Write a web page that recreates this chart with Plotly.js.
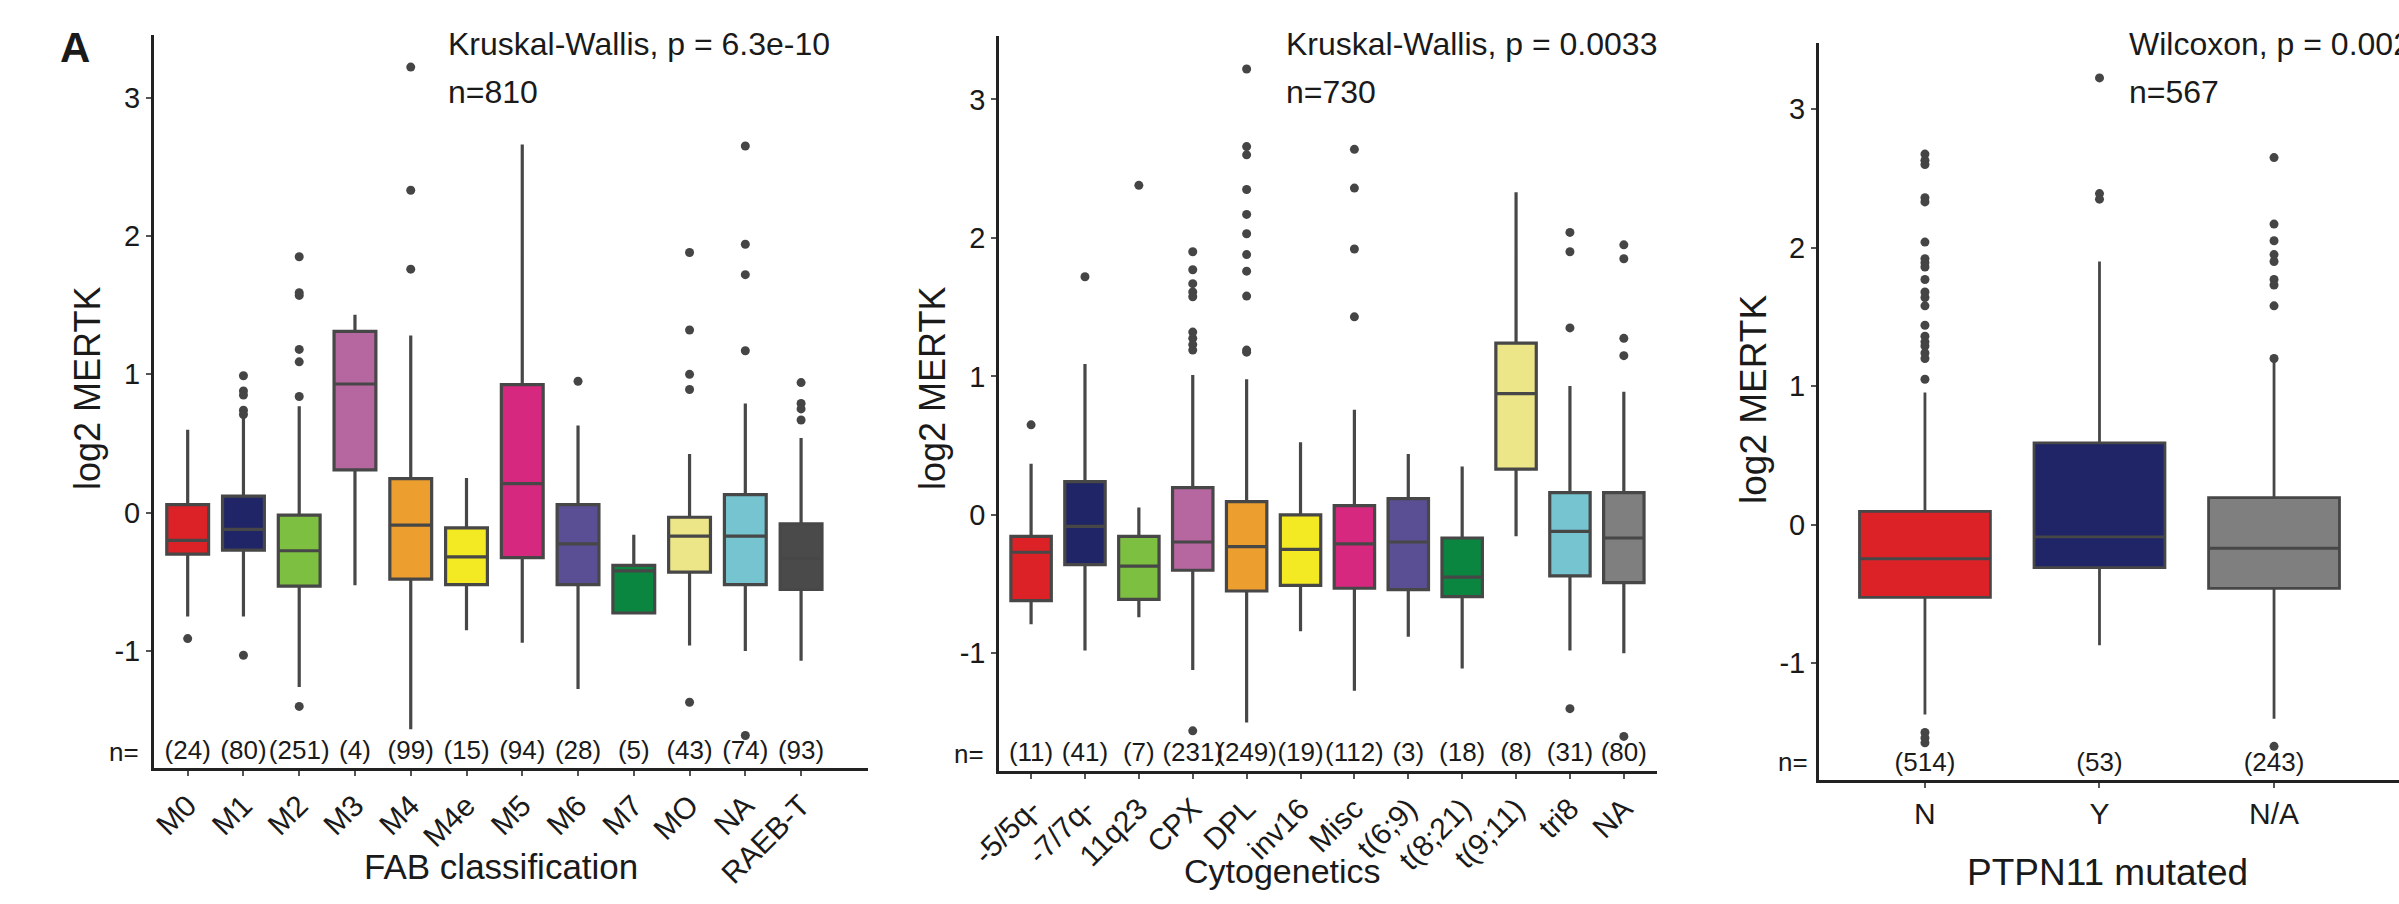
<!DOCTYPE html>
<html>
<head>
<meta charset="utf-8">
<script src="https://cdn.plot.ly/plotly-3.0.1.min.js"></script>
<style>
  html, body { margin: 0; padding: 0; background: #ffffff; }
  #chart { width: 2399px; height: 904px; }
</style>
</head>
<body>
<div id="chart"></div>
<script>
// ---------- Panel 1: FAB classification ----------
const fabCats = ['M0','M1','M2','M3','M4','M4e','M5','M6','M7','MO','NA','RAEB-T'];
const fabCounts = [24, 80, 251, 4, 99, 15, 94, 28, 5, 43, 74, 93];
const fabQ1  = [-0.30, -0.27, -0.53, 0.31, -0.48, -0.52, -0.325, -0.52, -0.725, -0.43, -0.52, -0.555];
const fabMed = [-0.20, -0.12, -0.275, 0.93, -0.09, -0.32, 0.21, -0.225, -0.42, -0.17, -0.17, -0.33];
const fabQ3  = [0.058, 0.12, -0.017, 1.31, 0.246, -0.11, 0.925, 0.058, -0.38, -0.033, 0.13, -0.08];
const fabLo  = [-0.75, -0.75, -1.26, -0.525, -1.565, -0.85, -0.94, -1.275, -0.725, -0.96, -1.0, -1.07];
const fabHi  = [0.60, 0.70, 0.77, 1.43, 1.28, 0.25, 2.66, 0.63, -0.16, 0.425, 0.79, 0.54];
const fabOut = [
  [-0.91],
  [0.99, 0.88, 0.85, 0.74, 0.71, -1.03],
  [1.85, 1.59, 1.57, 1.18, 1.09, 0.84, -1.40],
  [],
  [3.22, 2.33, 1.76],
  [],
  [],
  [0.95],
  [],
  [1.88, 1.32, 1.00, 0.89, -1.37],
  [2.65, 1.94, 1.72, 1.17, -1.61],
  [0.94, 0.79, 0.75, 0.67]
];
const fabColors = ['#dd2227','#1f2566','#7dbf41','#b667a0','#ec9e2e','#f4ea24','#d6287e','#5a4f95','#0b8640','#ece689','#76c4cf','#4a4a4a'];

// ---------- Panel 2: Cytogenetics ----------
const cytoCats = ['-5/5q-','-7/7q-','11q23','CPX','DPL','inv16','Misc','t(6;9)','t(8;21)','t(9;11)','tri8','NA'];
const cytoCounts = [11, 41, 7, 231, 249, 19, 112, 3, 18, 8, 31, 80];
const cytoQ1  = [-0.62, -0.36, -0.61, -0.40, -0.55, -0.51, -0.53, -0.54, -0.59, 0.33, -0.44, -0.49];
const cytoMed = [-0.27, -0.083, -0.37, -0.196, -0.23, -0.25, -0.21, -0.196, -0.45, 0.875, -0.12, -0.167];
const cytoQ3  = [-0.155, 0.24, -0.155, 0.196, 0.096, 0.0, 0.067, 0.117, -0.167, 1.24, 0.16, 0.16];
const cytoLo  = [-0.79, -0.98, -0.74, -1.12, -1.50, -0.84, -1.27, -0.88, -1.11, -0.155, -0.98, -1.0];
const cytoHi  = [0.37, 1.09, 0.054, 1.01, 0.98, 0.525, 0.76, 0.44, 0.35, 2.33, 0.93, 0.89];
const cytoOut = [
  [0.65],
  [1.72],
  [2.38],
  [1.90, 1.77, 1.67, 1.61, 1.575, 1.32, 1.275, 1.23, 1.19, -1.56],
  [3.22, 2.66, 2.60, 2.35, 2.17, 2.03, 1.88, 1.76, 1.58, 1.19, 1.175],
  [],
  [2.64, 2.36, 1.92, 1.43],
  [],
  [],
  [],
  [2.04, 1.90, 1.35, -1.40],
  [1.95, 1.85, 1.275, 1.15, -1.60]
];
const cytoColors = ['#dd2227','#1f2566','#7dbf41','#b667a0','#ec9e2e','#f4ea24','#d6287e','#5a4f95','#0b8640','#ece689','#76c4cf','#7f7f7f'];

// ---------- Panel 3: PTPN11 mutated ----------
const ptCats = ['N','Y','N/A'];
const ptCounts = [514, 53, 243];
const ptQ1  = [-0.525, -0.31, -0.46];
const ptMed = [-0.246, -0.0875, -0.17];
const ptQ3  = [0.096, 0.59, 0.196];
const ptLo  = [-1.37, -0.87, -1.40];
const ptHi  = [0.954, 1.90, 1.18];
const ptOut = [
  [2.675, 2.63, 2.60, 2.36, 2.33, 2.04, 1.92, 1.89, 1.86, 1.77, 1.68, 1.64, 1.58, 1.44, 1.36, 1.32, 1.29, 1.24, 1.20, 1.05, -1.50, -1.54, -1.575],
  [3.225, 2.39, 2.35],
  [2.65, 2.17, 2.05, 1.95, 1.90, 1.77, 1.73, 1.58, 1.20, -1.60]
];
const ptColors = ['#dd2227','#1f2566','#7f7f7f'];

const yTicks = [-1, 0, 1, 2, 3];

// ---------- build ----------
const W = 2399, H = 904;
const FONT = 'Liberation Sans, Arial, Helvetica, sans-serif';
const TXT = '#1a1a1a';
const N_LABEL_Y = -1.73;

function panel(cats, q1, med, q3, lo, hi, outs, counts, colors, xa, ya, lw) {
  const tr = [];
  cats.forEach((c, i) => {
    tr.push({
      type: 'box', x: [c], q1: [q1[i]], median: [med[i]], q3: [q3[i]],
      lowerfence: [lo[i]], upperfence: [hi[i]],
      xaxis: xa, yaxis: ya, width: 0.75, whiskerwidth: 0, boxpoints: false,
      fillcolor: colors[i], line: { color: '#474747', width: lw },
      hoverinfo: 'skip', showlegend: false
    });
  });
  const ox = [], oy = [];
  outs.forEach((arr, i) => arr.forEach(v => { ox.push(cats[i]); oy.push(v); }));
  tr.push({
    type: 'scatter', mode: 'markers', x: ox, y: oy, xaxis: xa, yaxis: ya,
    marker: { size: 9, color: '#454545' }, hoverinfo: 'skip', showlegend: false
  });
  tr.push({
    type: 'scatter', mode: 'text', x: cats, y: cats.map(() => N_LABEL_Y),
    text: counts.map(n => '(' + n + ')'), textposition: 'middle center',
    textfont: { size: 26, color: TXT, family: FONT }, cliponaxis: false,
    xaxis: xa, yaxis: ya, hoverinfo: 'skip', showlegend: false
  });
  return tr;
}

const data = [].concat(
  panel(fabCats, fabQ1, fabMed, fabQ3, fabLo, fabHi, fabOut, fabCounts, fabColors, 'x', 'y', 3.2),
  panel(cytoCats, cytoQ1, cytoMed, cytoQ3, cytoLo, cytoHi, cytoOut, cytoCounts, cytoColors, 'x2', 'y2', 3.2),
  panel(ptCats, ptQ1, ptMed, ptQ3, ptLo, ptHi, ptOut, ptCounts, ptColors, 'x3', 'y3', 2.8)
);

function xAxis(cats, dom, rng, anchor, angle, fs) {
  return {
    domain: dom, range: rng, type: 'category', categoryorder: 'array', categoryarray: cats,
    anchor: anchor, showline: true, linecolor: '#222222', linewidth: 3,
    ticks: 'outside', ticklen: 5, tickwidth: 2, tickcolor: '#555555',
    tickangle: angle, tickfont: { size: fs, color: TXT, family: FONT },
    showgrid: false, zeroline: false, fixedrange: true
  };
}
function yAxis(dom, rng, anchor) {
  return {
    domain: dom, range: rng, anchor: anchor, tickvals: yTicks, ticktext: yTicks.map(String),
    showline: true, linecolor: '#222222', linewidth: 3,
    ticks: 'outside', ticklen: 5, tickwidth: 2, tickcolor: '#555555',
    tickfont: { size: 29, color: TXT, family: FONT },
    showgrid: false, zeroline: false, fixedrange: true
  };
}
const px = v => v / W;
const py = v => 1 - v / H;

function ann(text, x, y, size, opts) {
  return Object.assign({
    text: text, x: px(x), y: py(y), xref: 'paper', yref: 'paper',
    xanchor: 'left', yanchor: 'middle', showarrow: false,
    font: { size: size, color: TXT, family: FONT }
  }, opts || {});
}

const annotations = [
  ann('<b>A</b>', 75, 47, 42, { xanchor: 'center' }),
  // stats
  ann('Kruskal-Wallis, p = 6.3e-10', 446, 44, 32),
  ann('n=810', 446, 92, 32),
  ann('Kruskal-Wallis, p = 0.0033', 1284, 44, 32),
  ann('n=730', 1284, 92, 32),
  ann('Wilcoxon, p = 0.002', 2127, 44, 32),
  ann('n=567', 2127, 92, 32),
  // n=
  ann('n=', 124, 752, 26, { xanchor: 'center' }),
  ann('n=', 969, 754, 26, { xanchor: 'center' }),
  ann('n=', 1793, 762, 26, { xanchor: 'center' }),
  // x titles
  ann('FAB classification', 501, 866, 35, { xanchor: 'center' }),
  ann('Cytogenetics', 1282, 871, 34, { xanchor: 'center' }),
  ann('PTPN11 mutated', 2107, 872, 37, { xanchor: 'center' }),
  // y titles
  ann('log2 MERTK', 88, 389, 36, { xanchor: 'center', textangle: -90 }),
  ann('log2 MERTK', 933, 389, 36, { xanchor: 'center', textangle: -90 }),
  ann('log2 MERTK', 1753, 400, 37, { xanchor: 'center', textangle: -90 })
];

const layout = {
  width: W, height: H,
  margin: { l: 0, r: 0, t: 0, b: 0, pad: 0 },
  paper_bgcolor: '#ffffff', plot_bgcolor: '#ffffff',
  showlegend: false, boxmode: 'overlay',
  font: { family: FONT, color: TXT },
  xaxis:  xAxis(fabCats,  [px(154), px(868)],  [-0.604, 12.2], 'y',  -45, 30),
  yaxis:  yAxis([py(768), py(34.6)], [-1.845, 3.455], 'x'),
  xaxis2: xAxis(cytoCats, [px(999.3), px(1656.7)], [-0.59, 11.61], 'y2', -45, 30),
  yaxis2: yAxis([py(771), py(35.8)], [-1.85, 3.46], 'x2'),
  xaxis3: xAxis(ptCats,   [px(1819), 1], [-0.607, 2.716], 'y3', 0, 30),
  yaxis3: yAxis([py(780), py(43.3)], [-1.843, 3.475], 'x3'),
  annotations: annotations
};

Plotly.newPlot('chart', data, layout, { staticPlot: true, displayModeBar: false });
</script>
</body>
</html>
